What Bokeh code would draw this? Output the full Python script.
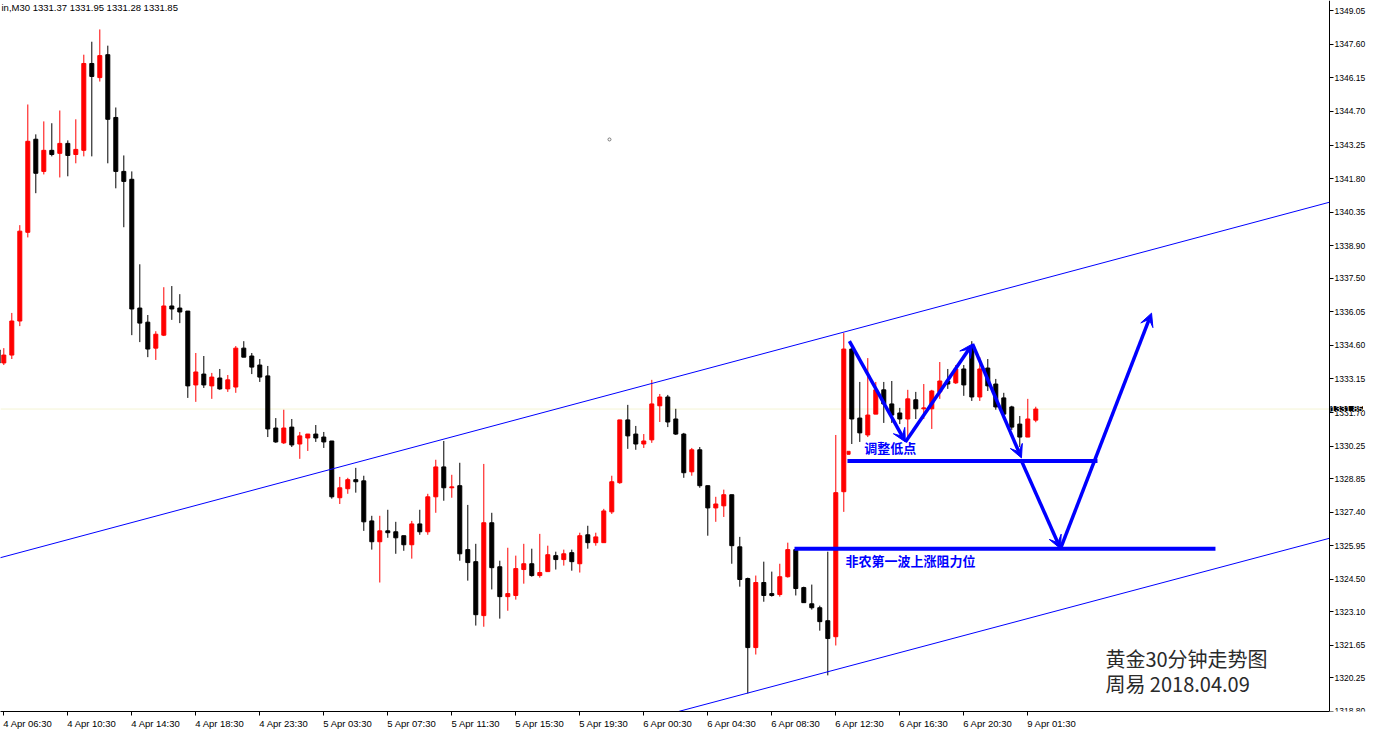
from bokeh.plotting import figure
from bokeh.models import Range1d, FixedTicker, Label, Arrow, VeeHead, ColumnDataSource
from bokeh.core.properties import value
from bokeh.embed import file_html
from bokeh.resources import INLINE

open_ = [1334.40, 1333.84, 1334.18, 1335.65, 1339.48, 1343.50, 1342.11, 1343.02, 1342.89, 1343.32,
         1342.84, 1343.02, 1346.77, 1346.16, 1347.15, 1344.44, 1342.11, 1341.77, 1336.21, 1335.60,
         1334.48, 1335.04, 1336.30, 1336.21, 1336.08, 1332.89, 1333.36, 1332.85, 1333.19, 1332.72,
         1332.80, 1334.48, 1334.14, 1333.75, 1333.28, 1331.03, 1330.39, 1331.07, 1330.34, 1330.60,
         1330.77, 1330.64, 1330.47, 1328.02, 1328.41, 1328.80, 1328.75, 1327.02, 1326.12, 1326.59,
         1326.55, 1326.38, 1325.99, 1326.89, 1326.55, 1328.06, 1329.35, 1328.45, 1328.54, 1325.78,
         1325.26, 1322.93, 1326.94, 1325.04, 1323.75, 1323.80, 1324.92, 1325.17, 1324.66, 1324.83,
         1325.52, 1325.35, 1325.65, 1325.17, 1326.42, 1326.08, 1326.08, 1327.41, 1328.67, 1331.38,
         1330.77, 1330.34, 1330.52, 1331.99, 1332.37, 1331.42, 1330.77, 1329.14, 1330.09, 1328.54,
         1327.58, 1327.67, 1328.15, 1325.90, 1324.53, 1321.55, 1324.36, 1323.88, 1323.84, 1324.61,
         1325.78, 1324.14, 1323.44, 1323.27, 1322.71, 1322.02, 1328.28, 1334.44, 1331.46, 1330.73,
         1331.63, 1332.68, 1332.07, 1331.68, 1331.42, 1332.25, 1331.86, 1331.86, 1332.59, 1333.06,
         1332.98, 1333.58, 1334.52, 1332.37, 1333.62, 1332.93, 1332.33, 1331.94, 1331.20, 1330.64,
         1331.37]
high = [1334.48, 1334.48, 1336.00, 1339.79, 1345.00, 1343.71, 1344.27, 1344.19, 1344.74, 1343.45,
        1344.36, 1347.15, 1347.71, 1348.24, 1347.54, 1344.87, 1342.80, 1342.11, 1338.10, 1335.91,
        1335.21, 1337.11, 1337.16, 1336.81, 1336.08, 1334.27, 1334.14, 1333.41, 1333.58, 1333.32,
        1334.57, 1334.78, 1334.27, 1334.01, 1333.71, 1331.46, 1331.82, 1331.42, 1330.86, 1330.77,
        1331.16, 1330.86, 1330.47, 1328.92, 1328.88, 1329.31, 1328.97, 1327.24, 1327.24, 1327.50,
        1326.98, 1326.38, 1327.02, 1327.50, 1328.19, 1329.66, 1330.47, 1329.01, 1329.53, 1327.71,
        1326.03, 1329.48, 1327.37, 1325.30, 1325.86, 1325.52, 1326.03, 1325.82, 1326.46, 1325.95,
        1325.69, 1325.78, 1325.78, 1326.51, 1326.81, 1326.51, 1327.54, 1328.97, 1331.38, 1332.03,
        1331.12, 1330.77, 1333.11, 1332.50, 1332.46, 1331.86, 1330.82, 1330.17, 1330.21, 1328.54,
        1328.06, 1328.37, 1328.15, 1326.33, 1324.57, 1324.66, 1325.26, 1324.83, 1325.17, 1326.08,
        1325.82, 1324.18, 1324.27, 1323.36, 1325.69, 1330.73, 1335.13, 1334.52, 1333.02, 1334.05,
        1333.02, 1333.02, 1333.06, 1331.90, 1332.68, 1332.59, 1332.93, 1332.68, 1333.88, 1333.58,
        1333.75, 1333.75, 1334.78, 1334.09, 1334.01, 1333.15, 1332.55, 1331.99, 1331.55, 1332.29,
        1331.95]
low = [1333.41, 1333.75, 1334.01, 1335.43, 1339.26, 1341.17, 1341.98, 1342.76, 1341.85, 1341.90,
       1342.46, 1342.76, 1342.76, 1345.99, 1342.46, 1341.38, 1339.70, 1335.04, 1334.74, 1334.09,
       1333.97, 1335.00, 1335.70, 1335.56, 1332.33, 1332.16, 1332.76, 1332.29, 1332.68, 1332.59,
       1332.55, 1334.09, 1333.36, 1333.02, 1330.64, 1330.39, 1330.34, 1330.21, 1329.70, 1330.04,
       1330.43, 1330.17, 1327.98, 1327.75, 1328.19, 1328.24, 1326.59, 1325.78, 1324.36, 1326.29,
       1325.60, 1325.73, 1325.39, 1326.42, 1326.42, 1327.37, 1327.89, 1328.02, 1325.30, 1324.44,
       1322.50, 1322.45, 1324.06, 1322.80, 1323.14, 1323.62, 1324.31, 1324.61, 1324.57, 1324.83,
       1324.92, 1325.09, 1324.87, 1324.79, 1325.82, 1325.95, 1326.08, 1327.32, 1328.62, 1330.13,
       1330.09, 1330.17, 1330.39, 1331.29, 1331.07, 1330.73, 1328.88, 1328.97, 1328.45, 1326.38,
       1326.98, 1327.19, 1325.17, 1324.18, 1319.57, 1321.25, 1323.53, 1323.75, 1323.75, 1324.57,
       1323.80, 1323.49, 1323.19, 1322.28, 1320.35, 1321.64, 1327.41, 1330.34, 1330.43, 1330.64,
       1331.63, 1331.25, 1331.25, 1331.20, 1330.56, 1331.42, 1331.42, 1330.99, 1332.29, 1332.72,
       1332.93, 1332.42, 1332.20, 1332.20, 1332.63, 1331.82, 1331.46, 1330.95, 1330.21, 1330.64,
       1331.28]
close = [1333.84, 1334.18, 1335.65, 1339.53, 1343.41, 1342.03, 1343.02, 1342.84, 1343.32, 1342.80,
         1343.06, 1346.77, 1346.21, 1347.11, 1344.36, 1342.11, 1341.68, 1336.17, 1335.56, 1334.44,
         1335.08, 1336.30, 1336.17, 1336.04, 1332.85, 1333.45, 1332.89, 1333.23, 1332.72, 1333.11,
         1334.48, 1334.09, 1333.66, 1333.23, 1330.99, 1330.43, 1331.03, 1330.30, 1330.69, 1330.77,
         1330.60, 1330.43, 1328.06, 1328.45, 1328.80, 1328.71, 1326.98, 1326.12, 1326.59, 1326.51,
         1326.29, 1325.99, 1326.89, 1326.55, 1328.06, 1329.35, 1328.45, 1328.49, 1325.60, 1325.22,
         1322.97, 1326.94, 1325.00, 1323.75, 1323.88, 1324.96, 1325.17, 1324.66, 1324.79, 1325.56,
         1325.35, 1325.60, 1325.26, 1326.38, 1326.08, 1326.33, 1327.45, 1328.71, 1331.38, 1330.69,
         1330.34, 1330.47, 1332.07, 1332.37, 1331.29, 1330.77, 1329.10, 1330.09, 1328.54, 1327.58,
         1327.75, 1328.15, 1325.95, 1324.49, 1321.55, 1324.36, 1323.80, 1323.80, 1324.61, 1325.78,
         1324.10, 1323.49, 1323.27, 1322.67, 1321.94, 1328.24, 1334.44, 1331.42, 1330.82, 1331.59,
         1332.68, 1332.07, 1331.59, 1331.42, 1332.29, 1331.86, 1331.90, 1332.63, 1333.06, 1332.93,
         1333.58, 1332.89, 1332.37, 1333.58, 1332.85, 1331.94, 1331.63, 1331.07, 1330.64, 1331.42,
         1331.85]

x_tick_bars = [1, 9, 17, 25, 33, 41, 49, 57, 65, 73, 81, 89, 97, 105, 113, 121, 129]
x_tick_labels = ["4 Apr 06:30", "4 Apr 10:30", "4 Apr 14:30", "4 Apr 18:30", "4 Apr 23:30",
                 "5 Apr 03:30", "5 Apr 07:30", "5 Apr 11:30", "5 Apr 15:30", "5 Apr 19:30",
                 "6 Apr 00:30", "6 Apr 04:30", "6 Apr 08:30", "6 Apr 12:30", "6 Apr 16:30",
                 "6 Apr 20:30", "9 Apr 01:30"]
y_tick_values = [1349.05, 1347.60, 1346.15, 1344.70, 1343.25, 1341.80, 1340.35, 1338.90, 1337.50,
                 1336.05, 1334.60, 1333.15, 1331.70, 1330.25, 1328.85, 1327.40, 1325.95, 1324.50,
                 1323.10, 1321.65, 1320.25, 1318.80]
last_price = 1331.85
header_text = "in,M30  1331.37 1331.95 1331.28 1331.85"

# chart window in bar units / price axis position
view_start = 0.5875
price_axis_at = 166.71
view_end = 171.34

upper_channel_x = [-0.41, 166.71]
upper_channel_y = [1325.34, 1340.78]
lower_channel_x = [80.0, 166.71]
lower_channel_y = [1318.30, 1326.27]

level_names = ["调整低点", "非农第一波上涨阻力位"]
level_price = [1329.61, 1325.82]
level_x0 = [106.46, 99.84]
level_x1 = [137.71, 152.46]
level_text_x = [108.55, 106.2]
level_text_y = [1330.19, 1325.30]

arrow_x0 = [106.7, 113.7, 122.09, 128.21, 133.09]
arrow_y0 = [1334.78, 1330.43, 1334.66, 1329.61, 1325.82]
arrow_x1 = [113.7, 122.09, 128.21, 133.09, 144.47]
arrow_y1 = [1330.43, 1334.66, 1329.74, 1325.82, 1335.99]

note_lines = ["黄金30分钟走势图", "周易 2018.04.09"]
note_x = [138.7, 138.7]
note_y = [1321.08, 1319.98]

idx = list(range(len(open_)))
colors = ["#ff0000" if c >= o else "#000000" for o, c in zip(open_, close)]
src = ColumnDataSource(dict(
    x=idx, high=high, low=low,
    top=[max(o, c) for o, c in zip(open_, close)],
    bottom=[min(o, c) for o, c in zip(open_, close)],
    color=colors))

p = figure(width=1366, height=739, output_backend="svg", toolbar_location=None,
           x_range=Range1d(view_start, view_end), y_range=Range1d(1318.79, 1349.49),
           y_axis_location="right",
           min_border_left=0, min_border_top=0, min_border_right=0, min_border_bottom=28)
p.grid.visible = False
p.outline_line_color = None
p.background_fill_color = "white"
p.border_fill_color = "white"

p.line(x=[view_start, price_axis_at], y=[last_price, last_price], line_color="#f4f4d4", line_width=1)

p.segment(x0="x", y0="low", x1="x", y1="high", source=src, line_color="color", line_width=1)
p.vbar(x="x", width=0.5, top="top", bottom="bottom", source=src,
       fill_color="color", line_color="color", line_width=1)

p.line(upper_channel_x, upper_channel_y, line_color="#0000ff", line_width=1)
p.line(lower_channel_x, lower_channel_y, line_color="#0000ff", line_width=1)

p.segment(x0=level_x0, y0=level_price, x1=level_x1, y1=level_price,
          line_color="#0000ff", line_width=4)
p.text(x=level_text_x, y=level_text_y, text=level_names,
       text_font=value("Noto Sans CJK SC"), text_font_size="13px", text_font_style="bold",
       text_color="#0000ff", text_baseline="middle", text_align="left")

for xs, ys, xe, ye in zip(arrow_x0, arrow_y0, arrow_x1, arrow_y1):
    p.add_layout(Arrow(end=VeeHead(size=13, fill_color="#0000ff", line_color="#0000ff", line_width=1),
                       x_start=xs, y_start=ys, x_end=xe, y_end=ye,
                       line_color="#0000ff", line_width=3.5))

p.text(x=note_x, y=note_y, text=note_lines, text_font=value("Noto Sans CJK SC"),
       text_font_size="20px", text_color="#2a2a2a", text_baseline="middle", text_align="left")

p.scatter(x=[76.71], y=[1343.49], size=3, marker="circle", fill_color=None, line_color="#777777")
p.scatter(x=[106.6], y=[1329.96], size=3, marker="square", fill_color="#ff0000", line_color="#ff0000")

# time axis: labels start at the tick (MT4 style) -> major ticks carry labels, minor ticks are the marks
label_shift = 3.0
xa = p.xaxis[0]
xa.bounds = (view_start, price_axis_at)
xa.ticker = FixedTicker(ticks=[t + label_shift for t in x_tick_bars], minor_ticks=x_tick_bars)
xa.major_label_overrides = {t + label_shift: l for t, l in zip(x_tick_bars, x_tick_labels)}
xa.major_tick_line_color = None
xa.major_tick_in = 0
xa.major_tick_out = 4
xa.minor_tick_in = 0
xa.minor_tick_out = 4
xa.minor_tick_line_color = "#000000"
xa.major_label_standoff = 2
xa.major_label_text_font = "Liberation Sans"
xa.major_label_text_font_size = "9.5px"
xa.major_label_text_color = "#000000"
xa.axis_line_color = "#000000"

# price axis drawn at a fixed position inside the window, ticks/labels to its right
ya = p.yaxis[0]
ya.fixed_location = price_axis_at
ya.ticker = FixedTicker(ticks=y_tick_values, minor_ticks=[])
ya.major_label_overrides = {v: f"{v:.2f}" for v in y_tick_values}
ya.minor_tick_line_color = None
ya.major_tick_in = 0
ya.major_tick_out = 4
ya.major_label_standoff = 1
ya.major_label_text_font = "Liberation Sans"
ya.major_label_text_font_size = "8.5px"
ya.major_label_text_color = "#000000"
ya.axis_line_color = "#000000"
ya.major_tick_line_color = "#000000"

p.add_layout(Label(x=price_axis_at + 0.12, y=last_price, text="1331.85",
                   text_font="Liberation Sans", text_font_size="9px", text_color="white",
                   text_baseline="middle", background_fill_color="black", level="overlay"))
p.add_layout(Label(x=1, x_units="screen", y=710, y_units="screen", text=header_text,
                   text_font="Liberation Sans", text_font_size="9.5px", text_color="#000000",
                   text_baseline="top"))

open("out.html", "w").write(file_html(p, INLINE))
